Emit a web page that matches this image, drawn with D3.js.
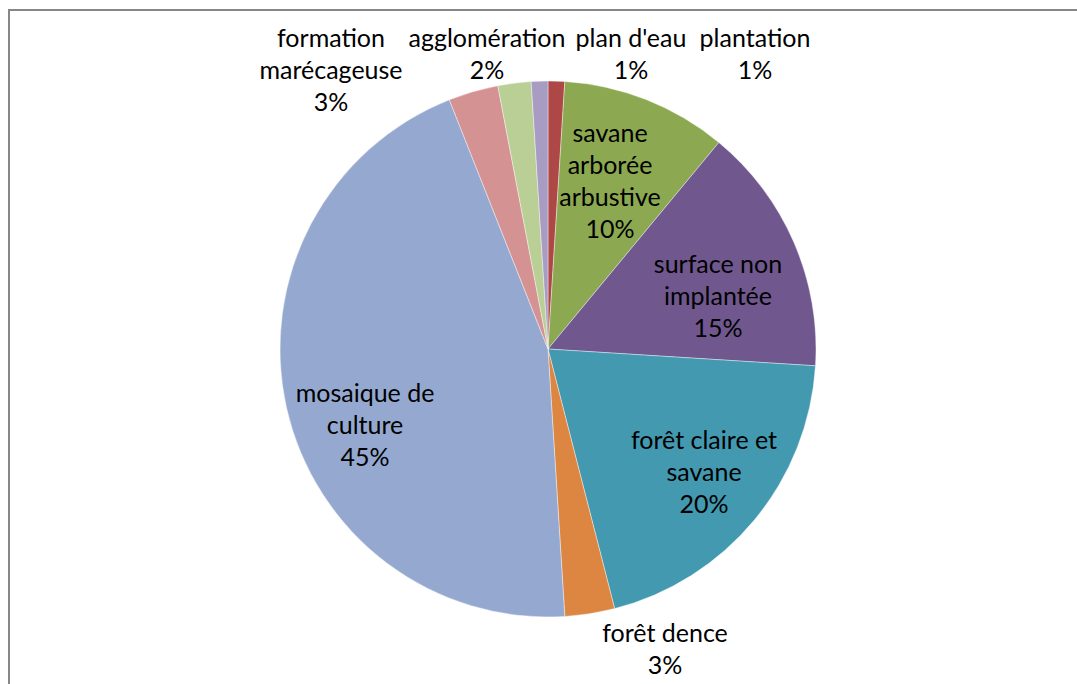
<!DOCTYPE html>
<html>
<head>
<meta charset="utf-8">
<script src="https://cdn.jsdelivr.net/npm/d3@7"></script>
<style>
  html, body { margin: 0; padding: 0; background: #fff; overflow: hidden; }
  svg { display: block; }
  text { font-family: Lato, "Noto Sans", sans-serif; fill: #000; }
</style>
</head>
<body>
<div id="chart"></div>
<script>
// slices, clockwise from 12 o'clock
var categories = ["plantation", "savane arborée arbustive", "surface non implantée",
  "forêt claire et savane", "forêt dence", "mosaique de culture",
  "formation marécageuse", "agglomération", "plan d'eau"];
var values = [1, 10, 15, 20, 3, 45, 3, 2, 1];
var colors = ["#AD4846", "#8CA851", "#70588F", "#4299B0", "#DD8642",
  "#95A9D0", "#D49392", "#BACF96", "#A99CC2"];
// label lines as in the original
var labelLines = [
  ["plantation", "1%"],
  ["savane", "arborée", "arbustive", "10%"],
  ["surface non", "implantée", "15%"],
  ["forêt claire et", "savane", "20%"],
  ["forêt dence", "3%"],
  ["mosaique de", "culture", "45%"],
  ["formation", "marécageuse", "3%"],
  ["agglomération", "2%"],
  ["plan d'eau", "1%"]
];
// label centres relative to pie centre (first line)
var labelAt = [
  [207, -311], [62, -216], [170, -85], [156, 91], [117, 284],
  [-183, 44], [-217, -311], [-61, -311], [83, -311]
];

function main() {
  var W = 1077, H = 684;
  var cx = 548, cy = 349, r = 268;
  var lineH = 32;

  var svg = d3.select("#chart").append("svg")
    .attr("width", W).attr("height", H);

  // chart area border (right/bottom are outside the view)
  svg.append("rect")
    .attr("x", 9).attr("y", 10)
    .attr("width", W + 20).attr("height", H + 20)
    .attr("fill", "#fff")
    .attr("stroke", "#878787")
    .attr("stroke-width", 2);

  var pie = d3.pie().sort(null).value(function(d) { return d; });
  var arc = d3.arc().innerRadius(0).outerRadius(r);

  var g = svg.append("g").attr("transform", "translate(" + cx + "," + cy + ")");

  g.selectAll("path")
    .data(pie(values))
    .enter().append("path")
    .attr("d", arc)
    .attr("fill", function(d, i) { return colors[i]; })
    .attr("stroke", "#fff")
    .attr("stroke-opacity", 0.5)
    .attr("stroke-width", 0.8);

  var labels = g.selectAll("text.lbl")
    .data(labelLines)
    .enter().append("text")
    .attr("class", "lbl")
    .attr("text-anchor", "middle")
    .attr("font-size", "25px")
    .attr("transform", function(d, i) {
      return "translate(" + labelAt[i][0] + "," + labelAt[i][1] + ")";
    });

  labels.selectAll("tspan")
    .data(function(d) { return d; })
    .enter().append("tspan")
    .attr("x", 0)
    .attr("y", function(d, j) { return j * lineH; })
    .attr("dy", "0.35em")
    .text(function(d) { return d; });
}

document.addEventListener("DOMContentLoaded", main);
</script>
</body>
</html>
